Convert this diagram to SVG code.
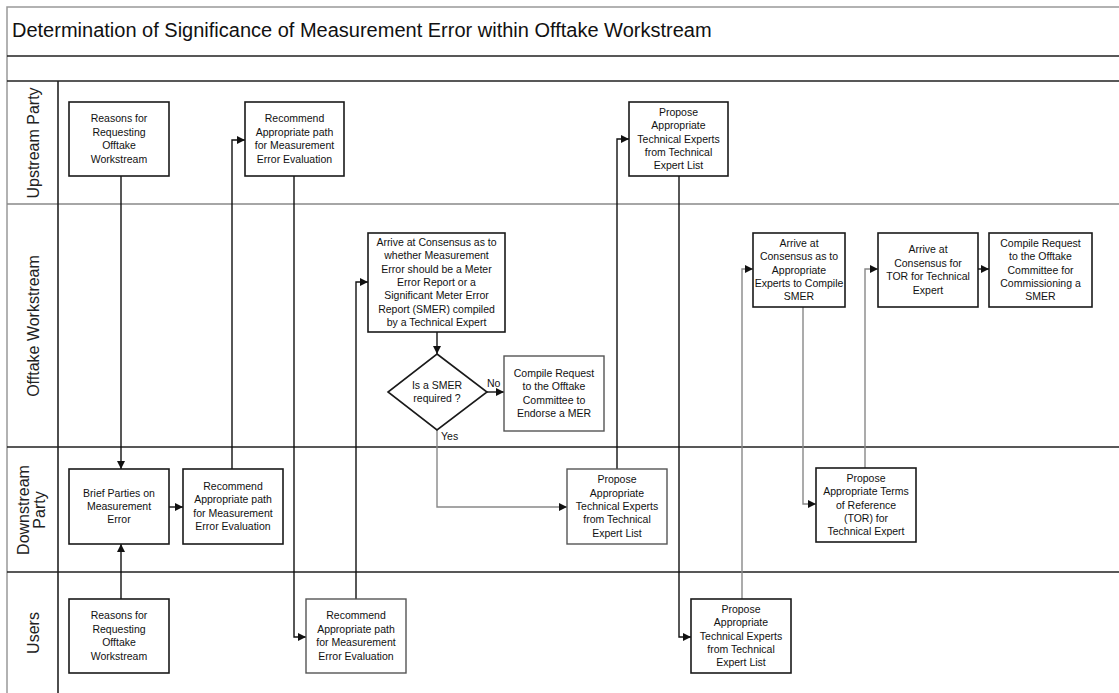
<svg xmlns="http://www.w3.org/2000/svg" width="1119" height="693" viewBox="0 0 1119 693">
<defs>
<style>
.frame{stroke:#999;stroke-width:1.5;fill:none}
.lane{stroke:#222;stroke-width:1.6;fill:none}
.lanel{stroke:#888;stroke-width:1.6;fill:none}
.box{fill:#fff;stroke:#1a1a1a;stroke-width:1.6}
.boxg{fill:#fff;stroke:#555;stroke-width:1.4}
.t{font-family:"Liberation Sans",Arial,sans-serif;font-size:10.5px;fill:#111;text-anchor:middle}
.title{font-family:"Liberation Sans",Arial,sans-serif;font-size:20px;fill:#111}
.ll{font-family:"Liberation Sans",Arial,sans-serif;font-size:16px;fill:#222;text-anchor:middle}
.c{stroke:#111;stroke-width:1.4;fill:none;marker-end:url(#ah)}
.cg{stroke:#888;stroke-width:1.4;fill:none;marker-end:url(#ah)}
.lbl{font-family:"Liberation Sans",Arial,sans-serif;font-size:10.5px;fill:#111}
</style>
<marker id="ah" viewBox="0 0 10 10" refX="10" refY="5" markerWidth="8" markerHeight="8" markerUnits="userSpaceOnUse" orient="auto">
<path d="M0,0 L10,5 L0,10 Z" fill="#111"/>
</marker>
</defs>
<rect width="1119" height="693" fill="#fff"/>
<g id="frame">
<path class="frame" d="M7,693 V7 H1119"/>
<path class="lane" d="M7,56 H1119 M7,81 H1119"/>
<path class="lanel" d="M7,204 H1119"/>
<path class="lane" d="M7,447 H1119 M7,572 H1119 M58,81 V693"/>
<text class="title" x="12" y="37">Determination of Significance of Measurement Error within Offtake Workstream</text>
</g>
<g id="lanes">
<text class="ll" transform="translate(39,143) rotate(-90)">Upstream Party</text>
<text class="ll" transform="translate(39,326) rotate(-90)">Offtake Workstream</text>
<text class="ll" transform="translate(28.5,510) rotate(-90)"><tspan x="0" y="0">Downstream</tspan><tspan x="0" y="16.5">Party</tspan></text>
<text class="ll" transform="translate(39,633) rotate(-90)">Users</text>
</g>
<g id="connectors">
<path class="c" d="M121,176 V469"/>
<path class="c" d="M121,599 V544"/>
<path class="c" d="M169,507 H183"/>
<path class="c" d="M232,469 V140 H245"/>
<path class="c" d="M294,176 V637 H306"/>
<path class="c" d="M356,599 V282 H368"/>
<path class="c" d="M437,332 V354"/>
<path class="c" d="M487,392 H504"/>
<path class="cg" d="M437,430 V507 H567"/>
<path class="c" d="M617,469 V139 H629"/>
<path class="c" d="M679,176 V637 H691"/>
<path class="cg" d="M742,599 V269 H753"/>
<path class="cg" d="M803,307 V504 H816"/>
<path class="cg" d="M865,468 V269 H878"/>
<path class="c" d="M978,269 H989"/>
<text class="lbl" x="487" y="387">No</text>
<text class="lbl" x="441" y="440">Yes</text>
</g>
<g id="up-reasons">
<rect class="box" x="69" y="102" width="100" height="74"/>
<text class="t" x="119" y="122.4">Reasons for<tspan x="119" dy="13.4">Requesting</tspan><tspan x="119" dy="13.4">Offtake</tspan><tspan x="119" dy="13.4">Workstream</tspan></text>
</g>
<g id="up-recommend">
<rect class="box" x="245" y="102" width="99" height="74"/>
<text class="t" x="294.5" y="122.4">Recommend<tspan x="294.5" dy="13.4">Appropriate path</tspan><tspan x="294.5" dy="13.4">for Measurement</tspan><tspan x="294.5" dy="13.4">Error Evaluation</tspan></text>
</g>
<g id="up-propose">
<rect class="box" x="629" y="102" width="99" height="74"/>
<text class="t" x="678.5" y="115.7">Propose<tspan x="678.5" dy="13.4">Appropriate</tspan><tspan x="678.5" dy="13.4">Technical Experts</tspan><tspan x="678.5" dy="13.4">from Technical</tspan><tspan x="678.5" dy="13.4">Expert List</tspan></text>
</g>
<g id="consensus-smer">
<rect class="box" x="368" y="233" width="137" height="99"/>
<text class="t" x="436.5" y="245.8">Arrive at Consensus as to<tspan x="436.5" dy="13.4">whether Measurement</tspan><tspan x="436.5" dy="13.4">Error should be a Meter</tspan><tspan x="436.5" dy="13.4">Error Report or a</tspan><tspan x="436.5" dy="13.4">Significant Meter Error</tspan><tspan x="436.5" dy="13.4">Report (SMER) compiled</tspan><tspan x="436.5" dy="13.4">by a Technical Expert</tspan></text>
</g>
<g id="decision">
<path class="box" d="M437,354 L487,392 L437,430 L388,392 Z"/>
<text class="t" x="437" y="388.8">Is a SMER<tspan x="437" dy="13.4">required ?</tspan></text>
</g>
<g id="mer-request">
<rect class="boxg" x="504" y="356" width="100" height="75"/>
<text class="t" x="554" y="376.9">Compile Request<tspan x="554" dy="13.4">to the Offtake</tspan><tspan x="554" dy="13.4">Committee to</tspan><tspan x="554" dy="13.4">Endorse a MER</tspan></text>
</g>
<g id="consensus-experts">
<rect class="box" x="753" y="233" width="92" height="74"/>
<text class="t" x="799" y="246.7">Arrive at<tspan x="799" dy="13.4">Consensus as to</tspan><tspan x="799" dy="13.4">Appropriate</tspan><tspan x="799" dy="13.4">Experts to Compile</tspan><tspan x="799" dy="13.4">SMER</tspan></text>
</g>
<g id="consensus-tor">
<rect class="box" x="878" y="233" width="100" height="74"/>
<text class="t" x="928" y="253.4">Arrive at<tspan x="928" dy="13.4">Consensus for</tspan><tspan x="928" dy="13.4">TOR for Technical</tspan><tspan x="928" dy="13.4">Expert</tspan></text>
</g>
<g id="smer-request">
<rect class="box" x="989" y="233" width="103" height="74"/>
<text class="t" x="1040.5" y="246.7">Compile Request<tspan x="1040.5" dy="13.4">to the Offtake</tspan><tspan x="1040.5" dy="13.4">Committee for</tspan><tspan x="1040.5" dy="13.4">Commissioning a</tspan><tspan x="1040.5" dy="13.4">SMER</tspan></text>
</g>
<g id="brief">
<rect class="box" x="69" y="469" width="100" height="75"/>
<text class="t" x="119" y="496.6">Brief Parties on<tspan x="119" dy="13.4">Measurement</tspan><tspan x="119" dy="13.4">Error</tspan></text>
</g>
<g id="down-recommend">
<rect class="box" x="183" y="469" width="100" height="75"/>
<text class="t" x="233" y="489.9">Recommend<tspan x="233" dy="13.4">Appropriate path</tspan><tspan x="233" dy="13.4">for Measurement</tspan><tspan x="233" dy="13.4">Error Evaluation</tspan></text>
</g>
<g id="down-propose">
<rect class="boxg" x="567" y="469" width="100" height="75"/>
<text class="t" x="617" y="483.2">Propose<tspan x="617" dy="13.4">Appropriate</tspan><tspan x="617" dy="13.4">Technical Experts</tspan><tspan x="617" dy="13.4">from Technical</tspan><tspan x="617" dy="13.4">Expert List</tspan></text>
</g>
<g id="tor-propose">
<rect class="box" x="816" y="468" width="100" height="74"/>
<text class="t" x="866" y="481.7">Propose<tspan x="866" dy="13.4">Appropriate Terms</tspan><tspan x="866" dy="13.4">of Reference</tspan><tspan x="866" dy="13.4">(TOR) for</tspan><tspan x="866" dy="13.4">Technical Expert</tspan></text>
</g>
<g id="users-reasons">
<rect class="box" x="69" y="599" width="100" height="74"/>
<text class="t" x="119" y="619.4">Reasons for<tspan x="119" dy="13.4">Requesting</tspan><tspan x="119" dy="13.4">Offtake</tspan><tspan x="119" dy="13.4">Workstream</tspan></text>
</g>
<g id="users-recommend">
<rect class="boxg" x="306" y="599" width="100" height="74"/>
<text class="t" x="356" y="619.4">Recommend<tspan x="356" dy="13.4">Appropriate path</tspan><tspan x="356" dy="13.4">for Measurement</tspan><tspan x="356" dy="13.4">Error Evaluation</tspan></text>
</g>
<g id="users-propose">
<rect class="box" x="691" y="599" width="100" height="74"/>
<text class="t" x="741" y="612.7">Propose<tspan x="741" dy="13.4">Appropriate</tspan><tspan x="741" dy="13.4">Technical Experts</tspan><tspan x="741" dy="13.4">from Technical</tspan><tspan x="741" dy="13.4">Expert List</tspan></text>
</g>
</svg>
